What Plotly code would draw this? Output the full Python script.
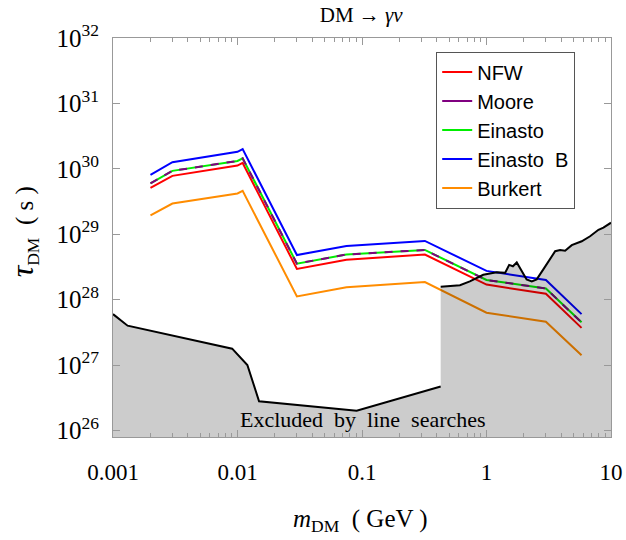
import plotly.graph_objects as go

# ---------------- data ----------------
mass_gev = [0.002, 0.003, 0.01, 0.011, 0.03, 0.075, 0.32, 1.0, 3.0, 5.8]

tau_nfw      = [5.1e29, 7.8e29, 1.12e30, 1.23e30, 2.95e28, 4.07e28, 4.9e28, 1.70e28, 1.23e28, 3.7e27]
tau_moore    = [6.0e29, 9.3e29, 1.32e30, 1.45e30, 3.55e28, 4.9e28, 5.75e28, 2.0e28, 1.48e28, 4.5e27]
tau_einasto  = [6.0e29, 9.3e29, 1.32e30, 1.45e30, 3.55e28, 4.9e28, 5.75e28, 2.0e28, 1.48e28, 4.5e27]
tau_einastoB = [8.1e29, 1.26e30, 1.82e30, 2.0e30, 4.8e28, 6.6e28, 7.9e28, 2.75e28, 2.0e28, 6.0e27]
tau_burkert  = [1.95e29, 2.95e29, 4.2e29, 4.6e29, 1.12e28, 1.55e28, 1.86e28, 6.3e27, 4.6e27, 1.41e27]

excl_left_mass = [0.001, 0.00131, 0.00906, 0.0120, 0.0149, 0.0906, 0.4285]
excl_left_tau  = [6.0e27, 4.0e27, 1.78e27, 1.0e27, 2.8e26, 2.0e26, 4.7e26]

excl_right_mass = [0.4285, 0.525, 0.612, 0.735, 0.942, 1.21, 1.41, 1.52, 1.63, 1.75, 1.88,
                   2.10, 2.31, 2.53, 2.86, 3.56, 3.90, 4.28, 4.84, 5.82, 6.79, 7.93, 8.69, 10.0]
excl_right_tau  = [1.58e28, 1.62e28, 1.66e28, 1.9e28, 2.4e28, 2.63e28, 2.57e28, 3.4e28, 3.24e28,
                   3.7e28, 2.9e28, 2.04e28, 1.9e28, 2.04e28, 2.9e28, 5.5e28, 5.75e28, 5.6e28,
                   6.8e28, 7.8e28, 9.3e28, 1.17e29, 1.26e29, 1.5e29]
excl_floor = 1e25

x_tick_vals = [0.001, 0.01, 0.1, 1, 10]
x_tick_text = ["0.001", "0.01", "0.1", "1", "10"]
y_tick_exps = [26, 27, 28, 29, 30, 31, 32]

# ---------------- figure ----------------
SERIF = "Liberation Serif"
SANS = "Liberation Sans"
fig = go.Figure()

def curve(name, y, color, rank, dash=None, legend=True, group=None):
    fig.add_trace(go.Scatter(
        x=mass_gev, y=y, mode="lines", name=name,
        line=dict(color=color, width=2, dash=dash),
        showlegend=legend, legendrank=rank, legendgroup=group or name))

curve("NFW", tau_nfw, "#ff0000", 1)
curve("Einasto", tau_einasto, "#00ee00", 3)
curve("Moore", tau_moore, "#800080", 2, dash="8px,8px", legend=False, group="Moore")
fig.add_trace(go.Scatter(x=[None], y=[None], mode="lines", name="Moore",
                         line=dict(color="#800080", width=2), legendrank=2,
                         legendgroup="Moore"))
curve("Einasto  B", tau_einastoB, "#0000ff", 4)
curve("Burkert", tau_burkert, "#ff8c00", 5)

# excluded region (drawn on top, translucent gray)
fill_x = [excl_left_mass[0]] + excl_left_mass + excl_right_mass + [excl_right_mass[-1], excl_left_mass[0]]
fill_y = [excl_floor] + excl_left_tau + excl_right_tau + [excl_floor, excl_floor]
fig.add_trace(go.Scatter(x=fill_x, y=fill_y, mode="lines", fill="toself",
                         fillcolor="rgba(0,0,0,0.2)", line=dict(width=0),
                         showlegend=False, hoverinfo="skip"))
fig.add_trace(go.Scatter(x=excl_left_mass, y=excl_left_tau, mode="lines",
                         line=dict(color="black", width=2), showlegend=False))
fig.add_trace(go.Scatter(x=excl_right_mass, y=excl_right_tau, mode="lines",
                         line=dict(color="black", width=2), showlegend=False))

minor_x = [m * 10.0 ** e for e in range(-3, 1) for m in range(2, 10)]

fig.update_xaxes(
    type="log", range=[-3, 1], tickmode="array", tickvals=x_tick_vals, ticktext=x_tick_text,
    ticks="inside", ticklen=7, tickcolor="#999", showline=True, linecolor="#999",
    linewidth=1, mirror="ticks", showgrid=False, zeroline=False, automargin=False,
    tickfont=dict(family=SERIF, size=23, color="black"), ticklabelstandoff=14,
    minor=dict(tickmode="array", tickvals=minor_x, ticks="inside", ticklen=4,
               tickcolor="#999", showgrid=False))
fig.update_yaxes(
    type="log", range=[25.9, 32], tickmode="array",
    tickvals=[10.0 ** e for e in y_tick_exps],
    ticktext=[f"10<sup>{e}</sup>" for e in y_tick_exps],
    ticks="inside", ticklen=7, tickcolor="#999", showline=True, linecolor="#999",
    linewidth=1, mirror="ticks", showgrid=False, zeroline=False, automargin=False,
    tickfont=dict(family=SERIF, size=25, color="black"), ticklabelstandoff=8)

fig.update_layout(
    width=626, height=540, autosize=False,
    margin=dict(l=113, r=15, t=38, b=103),
    paper_bgcolor="white", plot_bgcolor="white",
    title=dict(text="DM → <i>γν</i>", x=0.577, xanchor="center", y=0.972,
               yanchor="middle", yref="container", automargin=False,
               font=dict(family=SERIF, size=21, color="black")),
    legend=dict(x=0.649, y=0.966, xanchor="left", yanchor="top",
                bgcolor="white", bordercolor="#555", borderwidth=1,
                font=dict(family=SANS, size=20, color="black"),
                tracegroupgap=0, itemwidth=30),
    annotations=[
        dict(text="Excluded  by  line  searches", xref="paper", yref="paper",
             x=0.502, y=0.045, xanchor="center", yanchor="middle", showarrow=False,
             font=dict(family=SERIF, size=22, color="black")),
        dict(text="<i>m</i><sub>DM</sub>  ( GeV )", xref="paper", yref="paper",
             x=0.496, y=-0.2105, xanchor="center", yanchor="middle", showarrow=False,
             font=dict(family=SERIF, size=25, color="black")),
        dict(text="<span style='font-size:32px'><i>τ</i></span><sub>DM</sub>  ( s )",
             xref="paper", yref="paper", textangle=-90,
             x=-0.18, y=0.514, xanchor="center", yanchor="middle", showarrow=False,
             font=dict(family=SERIF, size=25, color="black")),
    ],
)

fig.write_html("out.html")
